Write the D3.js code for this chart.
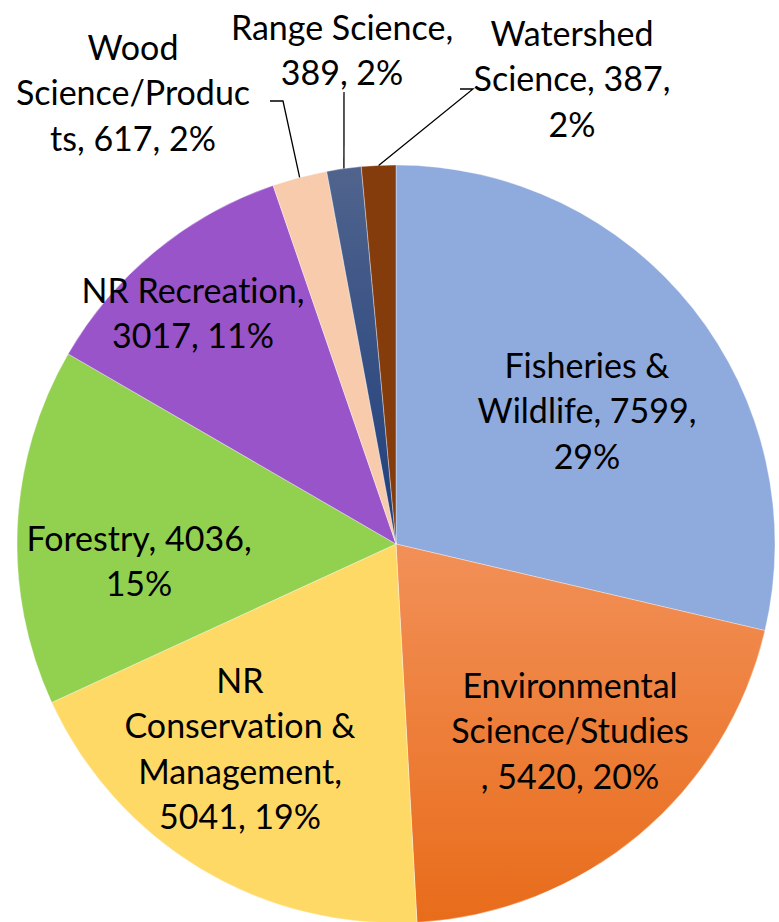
<!DOCTYPE html>
<html>
<head>
<meta charset="utf-8">
<script src="https://cdn.jsdelivr.net/npm/d3@7"></script>
<style>
  html, body { margin: 0; padding: 0; background: #ffffff; }
  svg { display: block; }
  text { font-family: Lato, "Open Sans", sans-serif; fill: #000; font-variant-ligatures: none; }
</style>
</head>
<body>
<svg id="chart" width="779" height="922"></svg>
<script>
// Degrees awarded by natural resources discipline
const categories = [
  "Fisheries & Wildlife",
  "Environmental Science/Studies",
  "NR Conservation & Management",
  "Forestry",
  "NR Recreation",
  "Wood Science/Products",
  "Range Science",
  "Watershed Science"
];
const values = [7599, 5420, 5041, 4036, 3017, 617, 389, 387];
const percents = [29, 20, 19, 15, 11, 2, 2, 2];

// Label lines as they wrap inside the chart
const labelLines = [
  ["Fisheries &", "Wildlife, 7599,", "29%"],
  ["Environmental", "Science/Studies", ", 5420, 20%"],
  ["NR", "Conservation &", "Management,", "5041, 19%"],
  ["Forestry, 4036,", "15%"],
  ["NR Recreation,", "3017, 11%"],
  ["Wood", "Science/Produc", "ts, 617, 2%"],
  ["Range Science,", "389, 2%"],
  ["Watershed", "Science, 387,", "2%"]
];

const colors = ["#8FAADC", "url(#gOrange)", "#FFD966", "#92D050", "#9954C9", "#F8CBAD", "url(#gNavy)", "#843C0C"];

const cx = 396, cy = 544, R = 379;
const fontSize = 34, lineH = 45.5;

// Label placement: [centre x, first-line y] plus optional leader anchor
const labelPos = [
  { x: 587, y: 366 },
  { x: 570, y: 686 },
  { x: 240, y: 681 },
  { x: 139, y: 539 },
  { x: 193, y: 291 },
  { x: 133, y: 48, leader: [[270, 101], [283, 101]] },
  { x: 342, y: 28, leader: [[344, 92]] },
  { x: 572, y: 34, leader: [[460, 89], [473, 89]] }
];

const svg = d3.select("#chart");
const defs = svg.append("defs");

// gradients expressed in the pie group's local coordinates
const gO = defs.append("linearGradient").attr("id", "gOrange")
  .attr("gradientUnits", "userSpaceOnUse")
  .attr("x1", 0).attr("y1", 0).attr("x2", 0).attr("y2", R);
gO.append("stop").attr("offset", 0).attr("stop-color", "#F29058");
gO.append("stop").attr("offset", 1).attr("stop-color", "#E86C1A");

const gN = defs.append("linearGradient").attr("id", "gNavy")
  .attr("gradientUnits", "userSpaceOnUse")
  .attr("x1", 0).attr("y1", -R).attr("x2", 0).attr("y2", 0);
gN.append("stop").attr("offset", 0).attr("stop-color", "#50648D");
gN.append("stop").attr("offset", 1).attr("stop-color", "#1F3E7C");

const data = categories.map((c, i) => ({ name: c, value: values[i], i }));

const pie = d3.pie().value(d => d.value).sort(null);
const arcs = pie(data);
const arc = d3.arc().innerRadius(0).outerRadius(R);

const g = svg.append("g").attr("transform", `translate(${cx},${cy})`);

g.selectAll("path.slice")
  .data(arcs)
  .join("path")
  .attr("class", "slice")
  .attr("d", arc)
  .attr("fill", d => colors[d.data.i])
  .attr("stroke", "#ffffff")
  .attr("stroke-width", 0.6)
  .attr("stroke-opacity", 0.6);

// leader lines from slice edge to label
const leaders = svg.append("g").attr("class", "leaders");
arcs.forEach((d, k) => {
  const lp = labelPos[k];
  if (!lp.leader) return;
  const mid = (d.startAngle + d.endAngle) / 2;
  const px = cx + R * Math.sin(mid);
  const py = cy - R * Math.cos(mid);
  const pts = lp.leader.concat([[px, py]]);
  leaders.append("path")
    .attr("d", d3.line()(pts))
    .attr("fill", "none")
    .attr("stroke", "#000")
    .attr("stroke-width", 1.3);
});

const labels = svg.append("g").attr("class", "labels");
arcs.forEach((d, k) => {
  const lp = labelPos[k];
  const t = labels.append("text")
    .attr("text-anchor", "middle")
    .attr("font-size", fontSize);
  labelLines[k].forEach((ln, j) => {
    t.append("tspan")
      .attr("x", lp.x)
      .attr("y", lp.y + j * lineH)
      .attr("dy", "0.35em")
      .text(ln);
  });
});
</script>
</body>
</html>
